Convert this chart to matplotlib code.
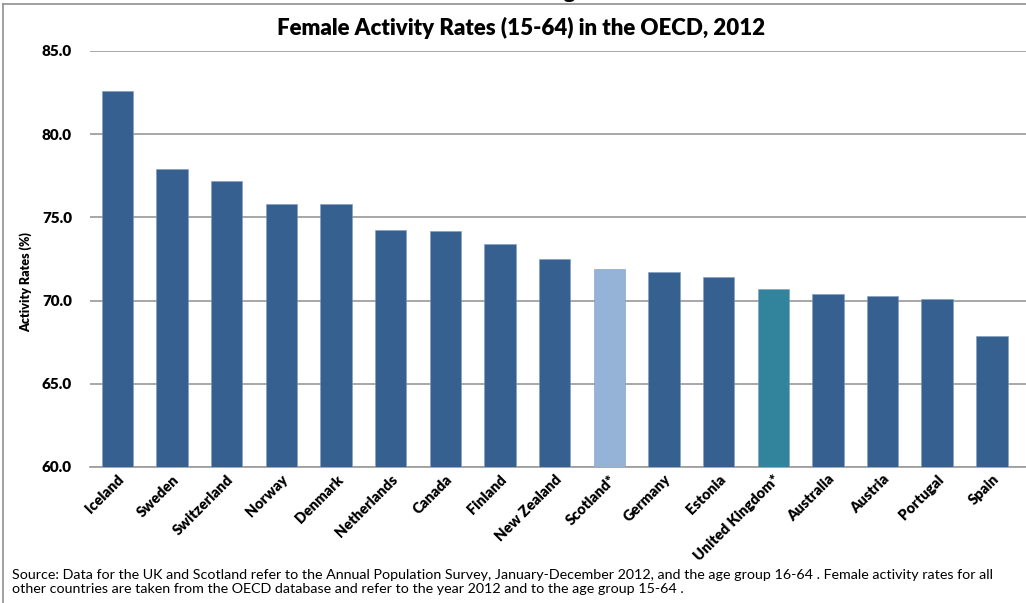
import matplotlib.pyplot as plt
from matplotlib.lines import Line2D

# Female activity rates (15-64), 2012
countries = ['Iceland', 'Sweden', 'Switzerland', 'Norway', 'Denmark', 'Netherlands',
             'Canada', 'Finland', 'New Zealand', 'Scotland*', 'Germany', 'Estonia',
             'United Kingdom*', 'Australia', 'Austria', 'Portugal', 'Spain']
rates = [82.6, 77.9, 77.2, 75.8, 75.8, 74.25, 74.2, 73.4, 72.5, 71.9, 71.7, 71.4,
         70.7, 70.4, 70.3, 70.1, 67.9]
yticks = [60, 65, 70, 75, 80, 85]

base_col = '#36608F'
highlight = {'Scotland*': '#95B3D7', 'United Kingdom*': '#31849B'}
colors = [highlight.get(c, base_col) for c in countries]

plt.rcParams['font.family'] = ['Lato', 'DejaVu Sans']

W, H = 1026, 603
fig = plt.figure(figsize=(W / 100, H / 100), dpi=100)
ax = fig.add_axes([90 / W, 1 - 467 / H, (1026 - 90) / W + 0.02, (467 - 51) / H])

x = range(len(countries))
ax.bar(x, rates, width=0.575, color=colors, zorder=3, edgecolor='#7F9CC0', linewidth=0.4)

ax.set_ylim(60, 85)
ax.set_xlim(-0.5, 17.0)
ax.set_yticks(yticks)
ax.set_yticklabels([f'{v:.1f}' for v in yticks], fontsize=11, fontweight='heavy')
ax.set_xticks(list(x))
ax.set_xticklabels(countries, rotation=45, ha='right', rotation_mode='anchor',
                   fontsize=10.5, fontweight='heavy')
ax.tick_params(axis='y', length=0, pad=13)
ax.tick_params(axis='x', length=0, pad=4)
ax.grid(axis='y', color='#A0A0A0', linewidth=1.3, zorder=0)
for s in ['top', 'right', 'left']:
    ax.spines[s].set_visible(False)
ax.spines['bottom'].set_color('#A0A0A0')
ax.spines['bottom'].set_linewidth(1.3)

fig.text(521 / W, 1 - 28 / H, 'Female Activity Rates (15-64) in the OECD, 2012',
         ha='center', va='center', fontsize=16, fontweight='heavy')
fig.text(26 / W, 1 - 282 / H, 'Activity Rates (%)', rotation=90, ha='center',
         va='center', fontsize=9, fontweight='heavy')
fig.text(12 / W, 1 - 582 / H,
         'Source: Data for the UK and Scotland refer to the Annual Population Survey, '
         'January-December 2012, and the age group 16-64 . Female activity rates for all\n'
         'other countries are taken from the OECD database and refer to the year 2012 '
         'and to the age group 15-64 .',
         ha='left', va='center', fontsize=10.25, linespacing=1.2)

# cut-off heading glyph at the very top
fig.text(569 / W, 1 + 1.5 / H, 'g', ha='center', va='baseline', fontsize=15, fontweight='heavy')

# frame lines of the original image
fig.add_artist(Line2D([2.5 / W, 1], [1 - 4 / H, 1 - 4 / H], color='#909090', lw=1.2))
fig.add_artist(Line2D([2.5 / W, 2.5 / W], [0, 1 - 4 / H], color='#909090', lw=1.2))

fig.savefig('out.png', dpi=100)
